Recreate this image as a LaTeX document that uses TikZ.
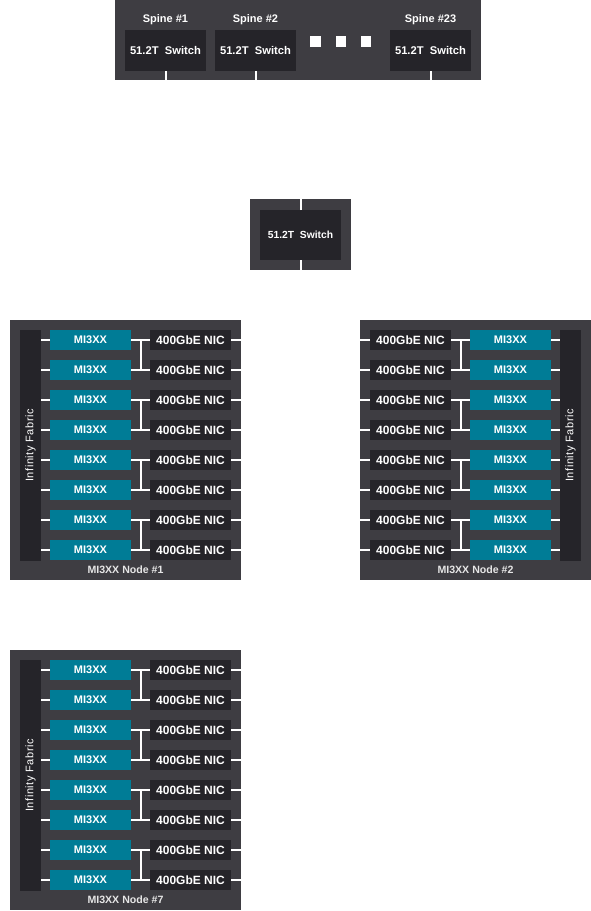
\documentclass[tikz,border=0pt]{standalone}
\usepackage{fontspec}
\setmainfont{Liberation Sans}
\usetikzlibrary{calc}
\definecolor{contc}{HTML}{3E3D42}
\definecolor{boxc}{HTML}{252429}
\definecolor{tealc}{HTML}{007C96}
\definecolor{lblc}{HTML}{E6E6E6}
\tikzset{
  cont/.style={fill=contc, draw=none, inner sep=0pt, outer sep=0pt, anchor=north west},
  gbox/.style={inner sep=0pt, outer sep=0pt, anchor=north west, minimum width=81pt, minimum height=20pt, text=white},
  mibox/.style={gbox, fill=tealc, font=\fontsize{11}{13}\selectfont\bfseries},
  nicbox/.style={gbox, fill=boxc, font=\fontsize{12}{14}\selectfont\bfseries},
  fabbox/.style={fill=boxc, inner sep=0pt, outer sep=0pt, anchor=north west, minimum width=21pt, minimum height=231pt},
  fabtext/.style={rotate=90, text=white, inner sep=0pt, font=\fontsize{11}{13}\selectfont\addfontfeature{LetterSpace=5}},
  swbox/.style={fill=boxc, inner sep=0pt, outer sep=0pt, anchor=north west, minimum width=81pt, minimum height=41pt, text=white, font=\fontsize{11.2}{13}\selectfont\bfseries},
  midsw/.style={fill=boxc, inner sep=0pt, outer sep=0pt, anchor=north west, minimum width=81pt, minimum height=50pt, text=white, font=\fontsize{10.3}{12}\selectfont\bfseries},
  spinelbl/.style={text=white, inner sep=0pt, font=\fontsize{11}{13}\selectfont\bfseries},
  nodelbl/.style={text=lblc, inner sep=0pt, font=\fontsize{10.6}{12}\selectfont\bfseries},
  wire/.style={draw=white, line width=2pt},
  dotsq/.style={fill=white, draw=none, inner sep=0pt, outer sep=0pt, anchor=north west, minimum size=10.5pt}
}
\newcommand{\leftgpunode}[4]{%
  \node[cont, minimum width=231pt, minimum height=260pt] (#1c) at (#2,#3) {};
  \node[fabbox] (#1f) at (#2+10,#3+10) {};
  \node[fabtext] (#1ft) at (#1f.center) {Infinity Fabric};
  \foreach \i in {0,...,7} {
    \node[mibox] (#1m\i) at (#2+40,#3+10+30*\i) {MI3XX};
    \node[nicbox] (#1n\i) at (#2+140,#3+10+30*\i) {400GbE NIC};
    \draw[wire] (#1m\i.west) -- (#1m\i.west -| #1f.east);
    \draw[wire] (#1m\i.east) -- (#1n\i.west);
    \draw[wire] (#1n\i.east) -- (#1n\i.east -| #1c.east);
  }
  \foreach \i/\j in {0/1,2/3,4/5,6/7} {
    \draw[wire] ($(#1m\i.east)!0.5!(#1n\i.west)$) -- ($(#1m\j.east)!0.5!(#1n\j.west)$);
  }
  \node[nodelbl] (#1l) at ($(#1c.south)+(0,-10)$) {#4};
}
\newcommand{\rightgpunode}[4]{%
  \node[cont, minimum width=231pt, minimum height=260pt] (#1c) at (#2,#3) {};
  \node[fabbox] (#1f) at (#2+200,#3+10) {};
  \node[fabtext] (#1ft) at (#1f.center) {Infinity Fabric};
  \foreach \i in {0,...,7} {
    \node[nicbox] (#1n\i) at (#2+10,#3+10+30*\i) {400GbE NIC};
    \node[mibox] (#1m\i) at (#2+110,#3+10+30*\i) {MI3XX};
    \draw[wire] (#1m\i.east) -- (#1m\i.east -| #1f.west);
    \draw[wire] (#1n\i.east) -- (#1m\i.west);
    \draw[wire] (#1n\i.west) -- (#1n\i.west -| #1c.west);
  }
  \foreach \i/\j in {0/1,2/3,4/5,6/7} {
    \draw[wire] ($(#1n\i.east)!0.5!(#1m\i.west)$) -- ($(#1n\j.east)!0.5!(#1m\j.west)$);
  }
  \node[nodelbl] (#1l) at ($(#1c.south)+(0,-10)$) {#4};
}
\begin{document}
\begin{tikzpicture}[x=1pt, y=-1pt]
  \fill[white] (0,0) rectangle (591,911);
  \useasboundingbox (0,0) rectangle (591,911);
  % spine layer
  \node[cont, minimum width=366pt, minimum height=80pt] (spine) at (115,0) {};
  \node[swbox] (sw1) at (125,30) {51.2T\ \ Switch};
  \node[swbox] (sw2) at (215,30) {51.2T\ \ Switch};
  \node[swbox] (sw23) at (390,30) {51.2T\ \ Switch};
  \node[spinelbl] (sl1) at ($(sw1.north)+(0,-10)$) {Spine \#1};
  \node[spinelbl] (sl2) at ($(sw2.north)+(0,-10)$) {Spine \#2};
  \node[spinelbl] (sl23) at ($(sw23.north)+(0,-10)$) {Spine \#23};
  \node[dotsq] (d1) at (310.2,36) {};
  \node[dotsq] (d2) at (335.5,36) {};
  \node[dotsq] (d3) at (360.7,36) {};
  \draw[wire] (sw1.south) -- (sw1.south |- spine.south);
  \draw[wire] (sw2.south) -- (sw2.south |- spine.south);
  \draw[wire] (sw23.south) -- (sw23.south |- spine.south);
  % middle switch
  \node[cont, minimum width=101pt, minimum height=71pt] (midc) at (250,199) {};
  \node[midsw] (mid) at (260,210) {51.2T\ \ Switch};
  \draw[wire] (mid.north) -- (mid.north |- midc.north);
  \draw[wire] (mid.south) -- (mid.south |- midc.south);
  % GPU nodes
  \leftgpunode{a}{10}{320}{MI3XX Node \#1}
  \rightgpunode{b}{360}{320}{MI3XX Node \#2}
  \leftgpunode{g}{10}{650}{MI3XX Node \#7}
\end{tikzpicture}
\end{document}
